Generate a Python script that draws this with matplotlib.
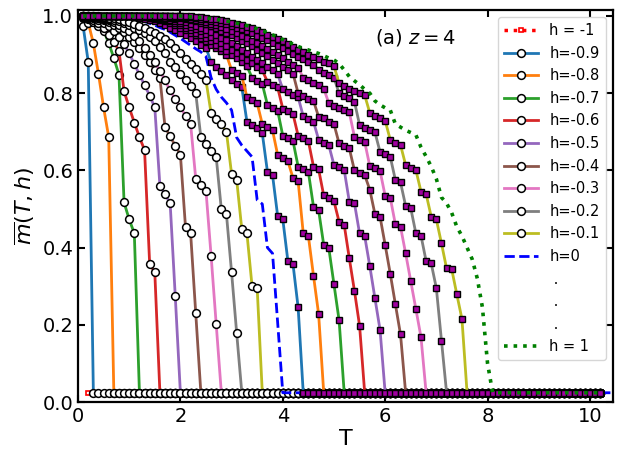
import numpy as np
import matplotlib
matplotlib.use("Agg")
import matplotlib.pyplot as plt
from matplotlib.lines import Line2D

# ---------------- data ----------------
T_STEP = 0.1          # temperature grid spacing
FLOOR = 0.024         # value all curves fall to after the transition
T_END = 10.2          # last temperature of the curves
T_END_H0 = 10.4       # last temperature of the h=0 curve
T_START_HM1 = 0.2     # first temperature of the h=-1 curve (sits on the floor)

# negative fields (circles), values at T = 0.1, 0.2, ...
m_hm09 = [0.974, 0.881]
m_hm08 = [0.995, 0.983, 0.929, 0.85, 0.763, 0.686]
m_hm07 = [0.998, 0.993, 0.985, 0.975, 0.962, 0.93, 0.891, 0.848, 0.517, 0.473, 0.437]
m_hm06 = [0.999, 0.996, 0.99, 0.981, 0.968, 0.952, 0.932, 0.91, 0.805, 0.763,
          0.724, 0.686, 0.653, 0.357, 0.336]
m_hm05 = [1.0, 0.998, 0.995, 0.99, 0.983, 0.973, 0.96, 0.945, 0.927, 0.903,
          0.876, 0.848, 0.821, 0.794, 0.763, 0.56, 0.538, 0.515, 0.274]
m_hm04 = [1.0, 0.999, 0.997, 0.994, 0.99, 0.984, 0.977, 0.968, 0.958, 0.946,
          0.932, 0.916, 0.899, 0.88, 0.86, 0.84, 0.712, 0.688, 0.664, 0.641,
          0.453, 0.437, 0.23]
m_hm03 = [1.0, 0.999, 0.998, 0.996, 0.993, 0.989, 0.984, 0.977, 0.969, 0.96,
          0.948, 0.934, 0.918, 0.9, 0.88, 0.858, 0.833, 0.807, 0.785, 0.763,
          0.742, 0.72, 0.578, 0.562, 0.547, 0.379, 0.201]
m_hm02 = [1.0, 1.0, 0.999, 0.998, 0.996, 0.993, 0.99, 0.987, 0.982, 0.976,
          0.97, 0.963, 0.955, 0.945, 0.935, 0.92, 0.903, 0.882, 0.869, 0.851,
          0.835, 0.818, 0.80, 0.686, 0.668, 0.651, 0.634, 0.499, 0.486, 0.336, 0.178]
m_hm01 = [1.0, 1.0, 1.0, 0.999, 0.998, 0.996, 0.994, 0.991, 0.988, 0.984,
          0.979, 0.974, 0.968, 0.962, 0.955, 0.948, 0.94, 0.929, 0.916, 0.903,
          0.888, 0.875, 0.862, 0.849, 0.833, 0.748, 0.733, 0.72, 0.699, 0.591,
          0.575, 0.447, 0.437, 0.30, 0.295]

# zero field (dashed)
m_h00 = [1.0] * 8 + [0.998, 0.996, 0.993, 0.99, 0.986, 0.981, 0.976, 0.97, 0.965, 0.958,
                     0.95, 0.942, 0.933, 0.924, 0.915, 0.907, 0.895, 0.84, 0.81, 0.79,
                     0.775, 0.756, 0.685, 0.665, 0.65, 0.635, 0.523, 0.513, 0.40, 0.385, 0.206]

# positive fields (squares)
m_hp01 = [1.0] * 10 + [0.998, 0.996, 0.993, 0.99, 0.986, 0.981, 0.976, 0.97, 0.964, 0.957,
                       0.95, 0.942, 0.934, 0.926, 0.918, 0.88, 0.868, 0.857, 0.846, 0.835,
                       0.825, 0.815, 0.726, 0.718, 0.709, 0.696, 0.597, 0.588, 0.482, 0.474,
                       0.365, 0.357, 0.245]
m_hp02 = [1.0] * 12 + [0.998, 0.996, 0.993, 0.99, 0.986, 0.981, 0.976, 0.97, 0.964, 0.957,
                       0.95, 0.942, 0.934, 0.926, 0.917, 0.908, 0.899, 0.86, 0.852, 0.844,
                       0.79, 0.782, 0.774, 0.72, 0.712, 0.704, 0.64, 0.632, 0.624, 0.58,
                       0.572, 0.437, 0.43, 0.327, 0.228]
m_hp03 = [1.0] * 13 + [0.998, 0.996, 0.993, 0.99, 0.986, 0.981, 0.976, 0.97, 0.964, 0.957,
                       0.95, 0.942, 0.934, 0.926, 0.917, 0.908, 0.899, 0.89, 0.88, 0.87,
                       0.84, 0.832, 0.824, 0.77, 0.762, 0.755, 0.69, 0.683, 0.676, 0.61,
                       0.603, 0.596, 0.506, 0.497, 0.407, 0.398, 0.305, 0.212]
m_hp04 = [1.0] * 14 + [0.998, 0.996, 0.993, 0.99, 0.986, 0.982, 0.977, 0.972, 0.966, 0.96,
                       0.953, 0.946, 0.938, 0.93, 0.922, 0.913, 0.904, 0.895, 0.886, 0.877,
                       0.868, 0.859, 0.83, 0.822, 0.815, 0.76, 0.753, 0.746, 0.69, 0.683,
                       0.676, 0.61, 0.603, 0.535, 0.528, 0.52, 0.467, 0.459, 0.372, 0.288, 0.198]
m_hp05 = [1.0] * 15 + [0.998, 0.996, 0.994, 0.991, 0.988, 0.984, 0.98, 0.975, 0.97, 0.964,
                       0.958, 0.951, 0.944, 0.937, 0.929, 0.921, 0.913, 0.904, 0.895, 0.886,
                       0.877, 0.868, 0.859, 0.85, 0.81, 0.803, 0.796, 0.79, 0.74, 0.733,
                       0.726, 0.68, 0.672, 0.665, 0.614, 0.608, 0.601, 0.519, 0.515, 0.437,
                       0.43, 0.352, 0.269, 0.187]
m_hp06 = [1.0] * 17 + [0.998, 0.996, 0.994, 0.992, 0.989, 0.986, 0.982, 0.978, 0.973, 0.968,
                       0.962, 0.956, 0.95, 0.943, 0.936, 0.929, 0.921, 0.913, 0.905, 0.896,
                       0.887, 0.878, 0.869, 0.86, 0.851, 0.80, 0.793, 0.786, 0.78, 0.739,
                       0.735, 0.726, 0.72, 0.67, 0.663, 0.657, 0.60, 0.594, 0.588, 0.55,
                       0.487, 0.48, 0.407, 0.332, 0.253, 0.175]
m_hp07 = [1.0] * 18 + [0.998, 0.997, 0.995, 0.993, 0.99, 0.987, 0.984, 0.98, 0.976, 0.971,
                       0.966, 0.961, 0.955, 0.949, 0.943, 0.936, 0.929, 0.922, 0.914, 0.906,
                       0.898, 0.89, 0.882, 0.874, 0.866, 0.84, 0.833, 0.826, 0.82, 0.812,
                       0.774, 0.767, 0.761, 0.756, 0.75, 0.687, 0.68, 0.674, 0.611, 0.605,
                       0.599, 0.534, 0.529, 0.46, 0.454, 0.385, 0.313, 0.241, 0.168]
m_hp08 = [1.0] * 20 + [0.998, 0.997, 0.995, 0.993, 0.991, 0.988, 0.985, 0.982, 0.978, 0.974,
                       0.97, 0.965, 0.96, 0.955, 0.949, 0.943, 0.937, 0.93, 0.923, 0.916,
                       0.909, 0.902, 0.895, 0.888, 0.881, 0.874, 0.86, 0.853, 0.846, 0.84,
                       0.80, 0.793, 0.787, 0.778, 0.718, 0.711, 0.705, 0.699, 0.648, 0.642,
                       0.635, 0.575, 0.569, 0.508, 0.502, 0.437, 0.431, 0.365, 0.359, 0.295,
                       0.159]
m_hp09 = [1.0] * 22 + [0.998, 0.997, 0.995, 0.993, 0.991, 0.989, 0.986, 0.983, 0.98, 0.976,
                       0.972, 0.968, 0.963, 0.958, 0.952, 0.946, 0.94, 0.934, 0.927, 0.92,
                       0.913, 0.907, 0.90, 0.894, 0.888, 0.882, 0.877, 0.87, 0.826, 0.819,
                       0.812, 0.806, 0.801, 0.795, 0.749, 0.741, 0.735, 0.729, 0.679, 0.672,
                       0.666, 0.614, 0.607, 0.601, 0.545, 0.539, 0.48, 0.473, 0.411, 0.346,
                       0.344, 0.279, 0.215]
# h = 1 (dotted)
m_hp10 = [1.0] * 20 + [0.999, 0.998, 0.997, 0.996, 0.995, 0.993, 0.991, 0.989, 0.987, 0.984,
                       0.981, 0.978, 0.975, 0.971, 0.967, 0.962, 0.957, 0.951, 0.945, 0.939,
                       0.933, 0.927, 0.921, 0.916, 0.912, 0.907, 0.903, 0.897, 0.891, 0.886,
                       0.877, 0.86, 0.843, 0.832, 0.822, 0.81, 0.80, 0.78, 0.77, 0.762,
                       0.756, 0.72, 0.712, 0.704, 0.698, 0.692, 0.66, 0.636, 0.61, 0.578,
                       0.53, 0.515, 0.49, 0.454, 0.43, 0.40, 0.37, 0.32, 0.245, 0.10]

neg_labels = ["h=-0.9", "h=-0.8", "h=-0.7", "h=-0.6", "h=-0.5",
              "h=-0.4", "h=-0.3", "h=-0.2", "h=-0.1"]
neg_series = [m_hm09, m_hm08, m_hm07, m_hm06, m_hm05, m_hm04, m_hm03, m_hm02, m_hm01]
pos_series = [m_hp01, m_hp02, m_hp03, m_hp04, m_hp05, m_hp06, m_hp07, m_hp08, m_hp09]

xticks = [0, 2, 4, 6, 8, 10]
yticks = [0.0, 0.2, 0.4, 0.6, 0.8, 1.0]


def curve(values, t_end=T_END, t_start=T_STEP):
    n = len(values)
    t_vals = t_start + T_STEP * np.arange(n)
    t_floor_start = t_start + T_STEP * n
    n_floor = int(round((t_end - t_floor_start) / T_STEP)) + 1
    t_floor = t_floor_start + T_STEP * np.arange(n_floor)
    T = np.concatenate([t_vals, t_floor])
    m = np.concatenate([np.asarray(values, float), np.full(n_floor, FLOOR)])
    return T, m


# ---------------- figure ----------------
fig = plt.figure(figsize=(6.23, 4.63), dpi=100)
ax = fig.add_axes([0.1252, 0.1317, 0.8587, 0.8467])

colors = plt.rcParams["axes.prop_cycle"].by_key()["color"]

T, m = curve([], t_start=T_START_HM1)
l_hm1, = ax.plot(T, m, color="r", ls=":", lw=2.5, marker="s", ms=3.5,
                 mfc="w", mec="r", mew=1.2, label="h = -1")

neg_handles = []
for i, vals in enumerate(neg_series):
    T, m = curve(vals)
    ln, = ax.plot(T, m, color=colors[i], lw=2, marker="o", ms=5.6,
                  mfc="w", mec="k", mew=1.1, label=neg_labels[i])
    neg_handles.append(ln)

T, m = curve(m_h00, t_end=T_END_H0)
l_h0, = ax.plot(T, m, color="b", ls="--", lw=2, label="h=0")

for i, vals in enumerate(pos_series):
    T, m = curve(vals)
    ax.plot(T, m, color=colors[i], lw=2, marker="s", ms=4.7,
            mfc="#a000a0", mec="k", mew=1.0)

T, m = curve(m_hp10)
l_h1, = ax.plot(T, m, color="g", ls=":", lw=2.6, label="h = 1")

dots = [Line2D([], [], ls="none", marker=None) for _ in range(3)]

handles = [l_hm1] + neg_handles + [l_h0] + dots + [l_h1]
labels = ["h = -1"] + neg_labels + ["h=0", " .", " .", " .", "h = 1"]
ax.legend(handles, labels, loc="upper right", fontsize=10.5,
          labelspacing=0.52, handlelength=2.3, borderpad=0.4)

ax.text(5.8, 0.945, r"(a) $z=4$", fontsize=14, ha="left", va="center")

ax.set_xlim(0, 10.45)
ax.set_ylim(0, 1.0155)
ax.set_xticks(xticks)
ax.set_yticks(yticks)
ax.set_xticklabels([str(v) for v in xticks])
ax.set_yticklabels([f"{v:.1f}" for v in yticks])
ax.tick_params(direction="in", top=True, right=True, length=5, width=1.5,
               labelsize=14)
for s in ax.spines.values():
    s.set_linewidth(1.6)

ax.set_xlabel("T", fontsize=16, labelpad=2)
ax.set_ylabel(r"$\overline{m}(T,h)$", fontsize=16)

fig.savefig("out.png", dpi=100)
